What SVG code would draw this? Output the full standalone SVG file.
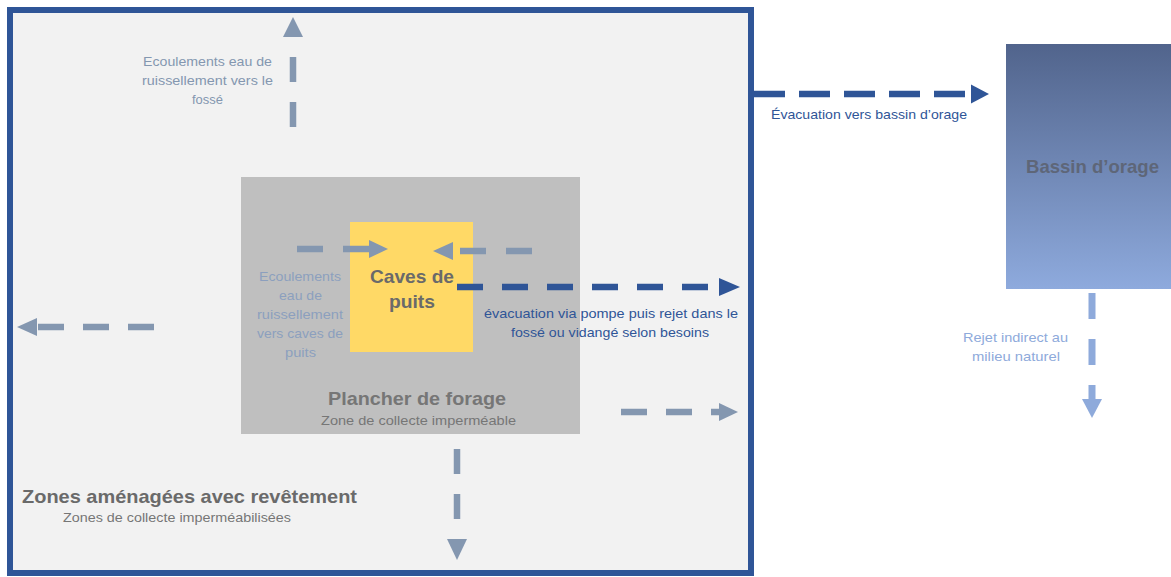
<svg xmlns="http://www.w3.org/2000/svg" width="1171" height="577" viewBox="0 0 1171 577">
<style>
text{font-family:"Liberation Sans",Arial,sans-serif}
.t{font-size:13.5px}
.b{font-size:18.5px;font-weight:bold}
.gb{fill:#8497b0}
.gi{fill:#8c9fbe}
.db{fill:#2f5597}
.lb{fill:#8eaadb}
.gr{fill:#767676}
.gt{fill:#6a6a6a}
.sg{stroke:#8497b0;stroke-width:6.5;fill:none}
.sd{stroke:#2f5597;stroke-width:6.5;fill:none}
.sl{stroke:#8eaadb;stroke-width:7;fill:none}
</style>
<defs>
<linearGradient id="bg" x1="0" y1="0" x2="0" y2="1">
<stop offset="0" stop-color="#51648c"/>
<stop offset="1" stop-color="#8eaadd"/>
</linearGradient>
</defs>
<rect width="1171" height="577" fill="#ffffff"/>
<g id="zones">
<rect x="10" y="10" width="741" height="563" fill="#f2f2f2" stroke="#2f5597" stroke-width="6"/>
<text class="b gt" x="22" y="503" textLength="335" lengthAdjust="spacingAndGlyphs">Zones aménagées avec revêtement</text>
<text class="t gr" x="63" y="522" textLength="228" lengthAdjust="spacingAndGlyphs">Zones de collecte imperméabilisées</text>
</g>
<g id="plancher">
<rect x="241" y="177" width="339" height="257" fill="#bfbfbf"/>
<text class="b gr" x="328" y="405" textLength="178" lengthAdjust="spacingAndGlyphs">Plancher de forage</text>
<text class="t gr" x="321" y="425" textLength="195" lengthAdjust="spacingAndGlyphs">Zone de collecte imperméable</text>
</g>
<g id="caves">
<rect x="350" y="222" width="123" height="130" fill="#ffd966"/>
<text class="b gt" x="370" y="283" textLength="84" lengthAdjust="spacingAndGlyphs">Caves de</text>
<text class="b gt" x="389" y="308" textLength="46" lengthAdjust="spacingAndGlyphs">puits</text>
</g>
<g id="bassin">
<rect x="1006" y="44" width="170" height="245" fill="url(#bg)"/>
<text class="b" fill="#5e6678" x="1026" y="173" textLength="133" lengthAdjust="spacingAndGlyphs">Bassin d’orage</text>
</g>
<g id="connectors">
<line class="sg" x1="293" y1="127" x2="293" y2="57" stroke-dasharray="25 20"/>
<polygon points="293,17 283,37 303,37" fill="#8497b0"/>
<line class="sg" x1="154" y1="327" x2="38" y2="327" stroke-dasharray="26 19"/>
<polygon points="17,327 37,318 37,336" fill="#8497b0"/>
<line class="sg" x1="457" y1="449" x2="457" y2="519" stroke-dasharray="25 20"/>
<polygon points="447,539 467,539 457,560" fill="#8497b0"/>
<line class="sg" x1="621" y1="412" x2="720" y2="412" stroke-dasharray="26 19"/>
<polygon points="719,403 738,412 719,421" fill="#8497b0"/>
<line class="sg" x1="297" y1="249" x2="370" y2="249" stroke-dasharray="26 20"/>
<polygon points="369,240 388,249 369,258" fill="#8497b0"/>
<line class="sg" x1="532" y1="251" x2="454" y2="251" stroke-dasharray="26 20"/>
<polygon points="433,251 453,242 453,260" fill="#8497b0"/>
<line class="sd" x1="457" y1="287" x2="720" y2="287" stroke-dasharray="26 19"/>
<polygon points="719,278 740,287 719,296" fill="#2f5597"/>
<line class="sd" x1="754" y1="94" x2="972" y2="94" stroke-dasharray="31 14"/>
<polygon points="971,84.5 989,94 971,103.5" fill="#2f5597"/>
<line class="sl" x1="1092" y1="293" x2="1092" y2="400" stroke-dasharray="26 20"/>
<polygon points="1082,399 1102,399 1092,418" fill="#8eaadb"/>
</g>
<g id="labels">
<text class="t gb" x="143" y="66" textLength="129" lengthAdjust="spacingAndGlyphs">Ecoulements eau de</text>
<text class="t gb" x="142" y="85" textLength="131" lengthAdjust="spacingAndGlyphs">ruissellement vers le</text>
<text class="t gb" x="192" y="104" textLength="31" lengthAdjust="spacingAndGlyphs">fossé</text>
<text class="t gi" x="259" y="281" textLength="82" lengthAdjust="spacingAndGlyphs">Ecoulements</text>
<text class="t gi" x="279" y="300" textLength="43" lengthAdjust="spacingAndGlyphs">eau de</text>
<text class="t gi" x="257" y="319" textLength="86" lengthAdjust="spacingAndGlyphs">ruissellement</text>
<text class="t gi" x="257" y="338" textLength="86" lengthAdjust="spacingAndGlyphs">vers caves de</text>
<text class="t gi" x="285" y="357" textLength="31" lengthAdjust="spacingAndGlyphs">puits</text>
<text class="t db" x="484" y="318" textLength="254" lengthAdjust="spacingAndGlyphs">évacuation via pompe puis rejet dans le</text>
<text class="t db" x="511" y="337" textLength="198" lengthAdjust="spacingAndGlyphs">fossé ou vidangé selon besoins</text>
<text class="t db" x="771" y="119" textLength="196" lengthAdjust="spacingAndGlyphs">Évacuation vers bassin d’orage</text>
<text class="t lb" x="963" y="342" textLength="105" lengthAdjust="spacingAndGlyphs">Rejet indirect au</text>
<text class="t lb" x="972" y="361" textLength="88" lengthAdjust="spacingAndGlyphs">milieu naturel</text>
</g>
</svg>
